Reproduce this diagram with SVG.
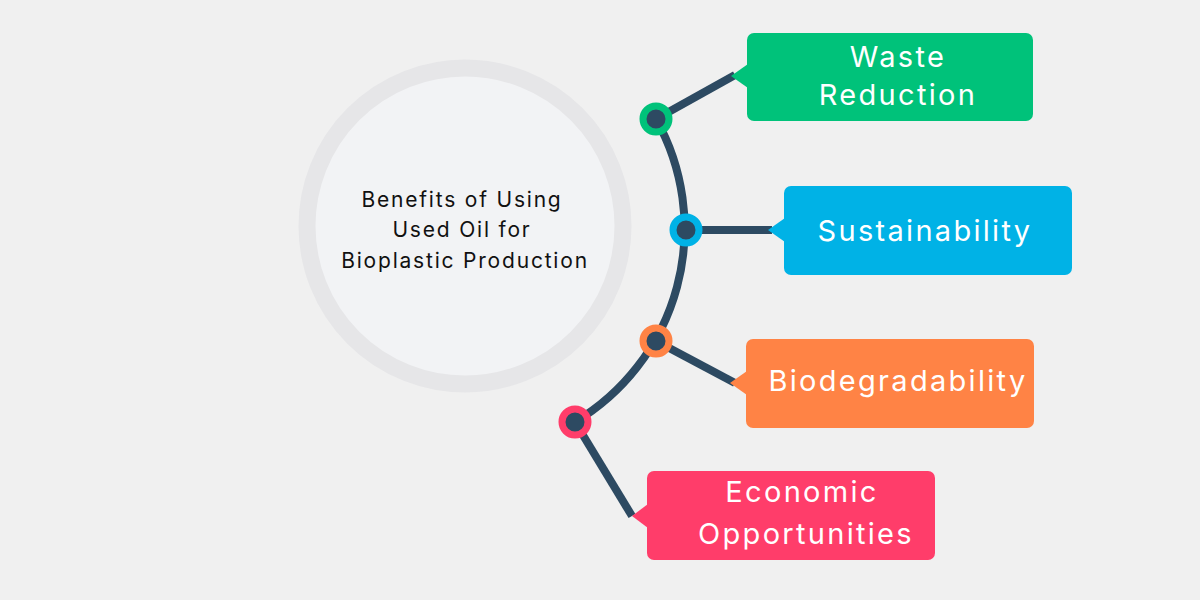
<svg xmlns="http://www.w3.org/2000/svg" width="1200" height="600" viewBox="0 0 1200 600">
<style>
.lbl{font-family:Inter,"Open Sans","Liberation Sans",sans-serif;font-size:29px;fill:#ffffff;text-anchor:middle;letter-spacing:2.3px}
.ctr{font-family:Inter,"Open Sans","Liberation Sans",sans-serif;font-size:21px;fill:#111111;text-anchor:middle;letter-spacing:1.8px}
.wire{fill:none;stroke:#2d4a62;stroke-width:8;stroke-linejoin:round}
</style>
<rect width="1200" height="600" fill="#f0f0f0"/>
<g id="center">
<circle cx="465" cy="226" r="158" fill="#f2f3f5" stroke="#e6e6e8" stroke-width="17"/>
<text class="ctr" x="462" y="207">Benefits of Using</text>
<text class="ctr" x="462" y="237">Used Oil for</text>
<text class="ctr" x="465" y="268">Bioplastic Production</text>
</g>
<g id="connectors">
<path class="wire" d="M656 119 A225 225 0 0 1 575 422"/>
<path class="wire" d="M656 119 L735 75"/>
<path class="wire" d="M686 230 L772 230"/>
<path class="wire" d="M656 341 L735 383"/>
<path class="wire" d="M575 422 L632 516"/>
</g>
<g id="waste">
<rect x="747" y="33" width="286" height="88" rx="7" fill="#00c27a"/>
<polygon points="731,76 748,64 748,88" fill="#00c27a"/>
<text class="lbl" x="898" y="67">Waste</text>
<text class="lbl" x="898" y="105">Reduction</text>
<circle cx="656" cy="119" r="13" fill="#2d4a62" stroke="#00c27a" stroke-width="7"/>
</g>
<g id="sustainability">
<rect x="784" y="186" width="288" height="89" rx="7" fill="#00b2e6"/>
<polygon points="768,230 785,218 785,242" fill="#00b2e6"/>
<text class="lbl" x="925" y="241">Sustainability</text>
<circle cx="686" cy="230" r="13" fill="#2d4a62" stroke="#00b2e6" stroke-width="7"/>
</g>
<g id="biodegradability">
<rect x="746" y="339" width="288" height="89" rx="7" fill="#ff8345"/>
<polygon points="730,383 747,371 747,395" fill="#ff8345"/>
<text class="lbl" x="898" y="391">Biodegradability</text>
<circle cx="656" cy="341" r="13" fill="#2d4a62" stroke="#ff8345" stroke-width="7"/>
</g>
<g id="economic">
<rect x="647" y="471" width="288" height="89" rx="7" fill="#ff3d6a"/>
<polygon points="632,516 648,504 648,528" fill="#ff3d6a"/>
<text class="lbl" x="802" y="502">Economic</text>
<text class="lbl" x="806" y="544">Opportunities</text>
<circle cx="575" cy="422" r="13" fill="#2d4a62" stroke="#ff3d6a" stroke-width="7"/>
</g>
</svg>
